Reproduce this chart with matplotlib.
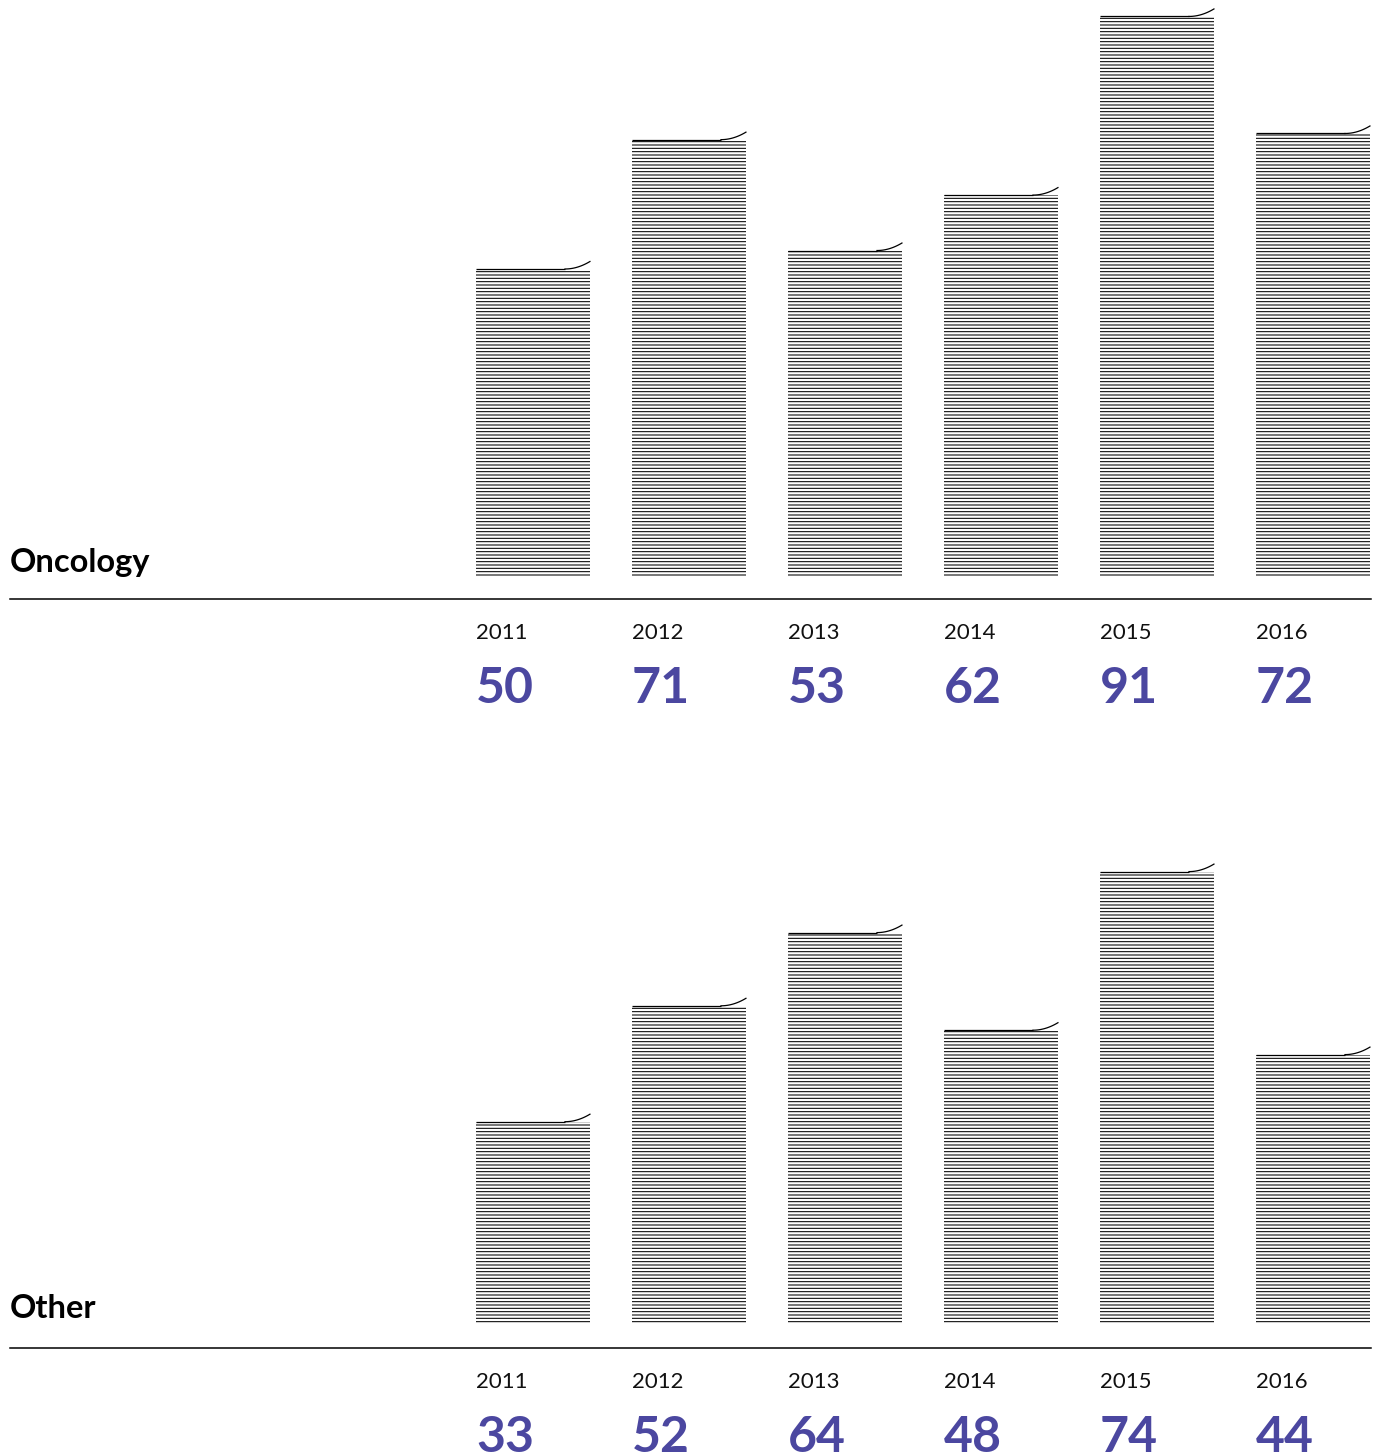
import numpy as np
import matplotlib
matplotlib.use("Agg")
import matplotlib.pyplot as plt

years = ["2011", "2012", "2013", "2014", "2015", "2016"]
oncology = [50, 71, 53, 62, 91, 72]
other = [33, 52, 64, 48, 74, 44]
panel_titles = ["Oncology", "Other"]

W, H = 1384, 1454
plt.rcParams['hatch.linewidth'] = 0.75
plt.rcParams['font.family'] = ['Lato', 'DejaVu Sans']

fig = plt.figure(figsize=(W / 100, H / 100), dpi=100)
value_color = "#4b47a0"

def px_ax(left, top, right, bottom):
    return fig.add_axes([left / W, 1 - bottom / H, (right - left) / W, (bottom - top) / H])

c0, pitch = 533, 156.0
bar_w = 0.73

def draw_panel(ax, values, title, scale, base_px, sep_px, top_px):
    n = len(values)
    x = np.arange(n)
    ax.set_xlim(-(c0 - 10) / pitch, (n - 1) + (1371 - (c0 + (n - 1) * pitch)) / pitch)
    ax.set_ylim(-(sep_px - base_px) / scale, (base_px - top_px) / scale)
    ax.bar(x, values, width=bar_w, bottom=0, color="white", edgecolor="black",
           linewidth=0, hatch="-----")
    curl_w = 0.16
    curl_h = 7.5 / scale
    for xi, v in zip(x, values):
        l = xi - bar_w / 2
        r = xi + bar_w / 2
        ax.plot([l, r - curl_w], [v, v], color="black", lw=0.9, solid_capstyle="butt")
        t = np.linspace(0, 1, 30)
        ax.plot(r - curl_w + curl_w * t, v + curl_h * t ** 2.0, color="black", lw=0.9)
    for s in ["top", "right", "left"]:
        ax.spines[s].set_visible(False)
    ax.spines["bottom"].set_linewidth(1.1)
    ax.set_xticks([])
    ax.set_yticks([])
    ax.patch.set_alpha(0)
    ax.text(0, 0, title, transform=ax.get_yaxis_transform(which='grid'),
            fontsize=23.5, fontweight="bold", ha="left", va="bottom")
    for xi, yr, v in zip(x, years, values):
        ax.annotate(yr, xy=(xi - bar_w / 2, 0), xycoords=("data", "axes fraction"),
                    xytext=(0, -17), textcoords="offset points",
                    fontsize=16, fontweight="normal", ha="left", va="top", color="#111111")
        ax.annotate(str(v), xy=(xi - bar_w / 2, 0), xycoords=("data", "axes fraction"),
                    xytext=(0, -48.5), textcoords="offset points",
                    fontsize=36, fontweight="bold", ha="left", va="top", color=value_color)

ax1 = px_ax(10, 0, 1371, 599)
draw_panel(ax1, oncology, panel_titles[0], 6.16, 577, 599, 0)
ax2 = px_ax(10, 760, 1371, 1348)
draw_panel(ax2, other, panel_titles[1], 6.1, 1323, 1348, 760)

fig.savefig("out.png", dpi=100)
